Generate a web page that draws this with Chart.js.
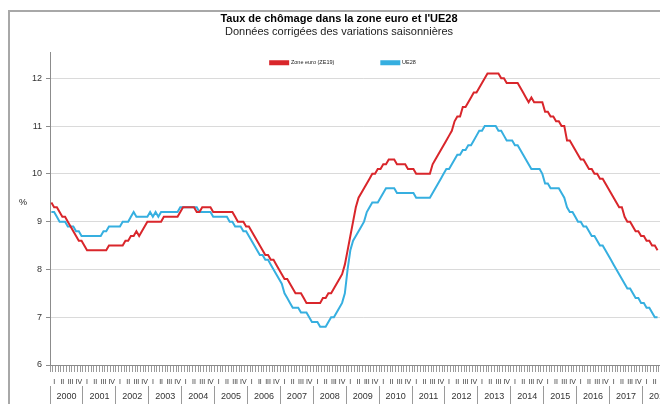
<!DOCTYPE html>
<html lang="fr">
<head>
<meta charset="utf-8">
<title>Taux de chômage dans la zone euro et l'UE28</title>
<script src="https://cdn.jsdelivr.net/npm/chart.js@4.4.1/dist/chart.umd.min.js"></script>
<style>
  html, body { margin: 0; padding: 0; background: #fff; }
  body { width: 660px; height: 404px; overflow: hidden; position: relative; }
  #frame { position: absolute; left: 8px; top: 10px; width: 720px; height: 440px;
           border-left: 2px solid #a8a8a8; border-top: 2px solid #a8a8a8; }
  #wrap { position: absolute; left: 0; top: 0; width: 680px; height: 412px; }
</style>
</head>
<body>
<div id="frame"></div>
<div id="wrap"><canvas id="chart"></canvas></div>
<script>
// Années et trimestres de l'axe horizontal
const years = [2000, 2001, 2002, 2003, 2004, 2005, 2006, 2007, 2008, 2009,
               2010, 2011, 2012, 2013, 2014, 2015, 2016, 2017, 2018];
const quarterLabels = ['I', 'II', 'III', 'IV'];
const months = years.flatMap(y =>
  Array.from({ length: 12 }, (_, i) => y + '-' + String(i + 1).padStart(2, '0')));

// Taux de chômage mensuel (%), données CVS, janvier 2000 à juin 2018
const zoneEuro = [
  9.4, 9.3, 9.3, 9.2, 9.1, 9.1, 9.0, 8.9, 8.8, 8.7, 8.6, 8.6,          // 2000
  8.5, 8.4, 8.4, 8.4, 8.4, 8.4, 8.4, 8.4, 8.4, 8.5, 8.5, 8.5,          // 2001
  8.5, 8.5, 8.5, 8.6, 8.6, 8.7, 8.7, 8.8, 8.7, 8.8, 8.9, 9.0,          // 2002
  9.0, 9.0, 9.0, 9.0, 9.0, 9.1, 9.1, 9.1, 9.1, 9.1, 9.1, 9.2,          // 2003
  9.3, 9.3, 9.3, 9.3, 9.3, 9.2, 9.2, 9.3, 9.3, 9.3, 9.3, 9.2,          // 2004
  9.2, 9.2, 9.2, 9.2, 9.2, 9.2, 9.2, 9.1, 9.0, 9.0, 9.0, 8.9,          // 2005
  8.9, 8.8, 8.7, 8.6, 8.5, 8.4, 8.3, 8.3, 8.2, 8.2, 8.1, 8.0,          // 2006
  7.9, 7.8, 7.8, 7.7, 7.6, 7.5, 7.5, 7.5, 7.4, 7.3, 7.3, 7.3,          // 2007
  7.3, 7.3, 7.3, 7.4, 7.4, 7.5, 7.5, 7.6, 7.7, 7.8, 7.9, 8.1,          // 2008
  8.4, 8.7, 9.0, 9.3, 9.5, 9.6, 9.7, 9.8, 9.9, 10.0, 10.0, 10.1,       // 2009
  10.1, 10.2, 10.2, 10.3, 10.3, 10.3, 10.2, 10.2, 10.2, 10.2, 10.1, 10.1, // 2010
  10.1, 10.0, 10.0, 10.0, 10.0, 10.0, 10.0, 10.2, 10.3, 10.4, 10.5, 10.6, // 2011
  10.7, 10.8, 10.9, 11.1, 11.2, 11.2, 11.4, 11.4, 11.5, 11.6, 11.7, 11.7, // 2012
  11.8, 11.9, 12.0, 12.1, 12.1, 12.1, 12.1, 12.1, 12.0, 12.0, 11.9, 11.9, // 2013
  11.9, 11.9, 11.9, 11.8, 11.7, 11.6, 11.5, 11.6, 11.5, 11.5, 11.5, 11.5, // 2014
  11.3, 11.3, 11.2, 11.2, 11.1, 11.1, 11.0, 11.0, 10.7, 10.7, 10.6, 10.5, // 2015
  10.4, 10.3, 10.3, 10.2, 10.1, 10.1, 10.0, 10.0, 9.9, 9.9, 9.8, 9.7,  // 2016
  9.6, 9.5, 9.4, 9.3, 9.3, 9.1, 9.0, 9.0, 8.9, 8.8, 8.8, 8.7,          // 2017
  8.7, 8.6, 8.6, 8.5, 8.5, 8.4                                         // 2018
];
const ue28 = [
  9.2, 9.2, 9.1, 9.0, 9.0, 9.0, 8.9, 8.9, 8.9, 8.8, 8.8, 8.7,          // 2000
  8.7, 8.7, 8.7, 8.7, 8.7, 8.7, 8.7, 8.8, 8.8, 8.9, 8.9, 8.9,          // 2001
  8.9, 8.9, 9.0, 9.0, 9.0, 9.1, 9.2, 9.1, 9.1, 9.1, 9.1, 9.1,          // 2002
  9.2, 9.1, 9.2, 9.1, 9.2, 9.2, 9.2, 9.2, 9.2, 9.2, 9.2, 9.3,          // 2003
  9.3, 9.3, 9.3, 9.3, 9.3, 9.3, 9.2, 9.2, 9.2, 9.2, 9.2, 9.1,          // 2004
  9.1, 9.1, 9.1, 9.1, 9.1, 9.0, 9.0, 8.9, 8.9, 8.9, 8.8, 8.8,          // 2005
  8.7, 8.6, 8.5, 8.4, 8.3, 8.3, 8.2, 8.2, 8.1, 8.0, 7.9, 7.8,          // 2006
  7.7, 7.5, 7.4, 7.3, 7.2, 7.2, 7.2, 7.1, 7.1, 7.1, 7.0, 6.9,          // 2007
  6.9, 6.9, 6.8, 6.8, 6.8, 6.9, 7.0, 7.0, 7.1, 7.2, 7.3, 7.5,          // 2008
  8.0, 8.4, 8.6, 8.7, 8.8, 8.9, 9.0, 9.2, 9.3, 9.4, 9.4, 9.4,          // 2009
  9.5, 9.6, 9.7, 9.7, 9.7, 9.7, 9.6, 9.6, 9.6, 9.6, 9.6, 9.6,          // 2010
  9.6, 9.5, 9.5, 9.5, 9.5, 9.5, 9.5, 9.6, 9.7, 9.8, 9.9, 10.0,         // 2011
  10.1, 10.1, 10.2, 10.3, 10.4, 10.4, 10.5, 10.5, 10.6, 10.6, 10.7, 10.8, // 2012
  10.9, 10.9, 11.0, 11.0, 11.0, 11.0, 11.0, 10.9, 10.9, 10.8, 10.7, 10.7, // 2013
  10.7, 10.6, 10.6, 10.5, 10.4, 10.3, 10.2, 10.1, 10.1, 10.1, 10.1, 10.0, // 2014
  9.8, 9.8, 9.7, 9.7, 9.7, 9.7, 9.6, 9.5, 9.3, 9.2, 9.2, 9.1,          // 2015
  9.0, 9.0, 8.9, 8.9, 8.8, 8.7, 8.7, 8.6, 8.5, 8.5, 8.4, 8.3,          // 2016
  8.2, 8.1, 8.0, 7.9, 7.8, 7.7, 7.6, 7.6, 7.5, 7.4, 7.4, 7.3,          // 2017
  7.3, 7.2, 7.2, 7.1, 7.0, 7.0                                         // 2018
];

const FONT = '"Liberation Sans", Arial, sans-serif';

// Libellé d'unité "%" à gauche de l'axe vertical
const unitLabel = {
  id: 'unitLabel',
  afterDraw(chart) {
    const { ctx, chartArea, scales } = chart;
    ctx.save();
    ctx.font = '9px ' + FONT;
    ctx.fillStyle = '#222';
    ctx.textAlign = 'center';
    ctx.textBaseline = 'middle';
    ctx.fillText('%', chartArea.left - 27, scales.y.getPixelForValue(9.4));
    ctx.restore();
  }
};

// La légende est posée en haut de la zone de tracé, au-dessus des courbes
const legendInPlot = {
  id: 'legendInPlot',
  afterLayout(chart) {
    const lg = chart.legend;
    if (!lg) return;
    lg.top = 13;
    lg.bottom = 75;
    lg.height = lg.bottom - lg.top;
    lg.left += 4;
    lg.right += 4;
  }
};

new Chart(document.getElementById('chart'), {
  type: 'line',
  data: {
    labels: months,
    datasets: [
      { label: 'Zone euro (ZE19)', data: zoneEuro, borderColor: '#d9262b', backgroundColor: '#d9262b',
        borderWidth: 2, pointRadius: 0, tension: 0 },
      { label: 'UE28', data: ue28, borderColor: '#36afe0', backgroundColor: '#36afe0',
        borderWidth: 2, pointRadius: 0, tension: 0 }
    ]
  },
  options: {
    responsive: true,
    maintainAspectRatio: false,
    animation: false,
    events: [],
    layout: { padding: { top: 12, left: 0, right: 2, bottom: 6 } },
    plugins: {
      legend: {
        position: 'top', maxHeight: 1,
        labels: { boxWidth: 18, boxHeight: 3, padding: 47, color: '#222', font: { size: 5.5, family: FONT } }
      },
      title: {
        display: true, text: "Taux de chômage dans la zone euro et l'UE28",
        color: '#000', font: { size: 11, weight: 'bold', family: FONT }, padding: { top: 0, bottom: 0 }
      },
      subtitle: {
        display: true, text: 'Données corrigées des variations saisonnières',
        color: '#222', font: { size: 11, family: FONT }, padding: { top: 0, bottom: 12.6 }
      },
      tooltip: { enabled: false }
    },
    scales: {
      y: {
        min: 6, max: 12.55,
        afterFit(s) { s.width = 50; },
        afterBuildTicks(s) { s.ticks = s.ticks.filter(t => Number.isInteger(t.value)); },
        ticks: { stepSize: 1, includeBounds: false, padding: 4, color: '#333', font: { size: 9, family: FONT } },
        grid: { color: '#dadada', tickLength: 4, tickColor: '#8c8c8c' },
        border: { color: '#8c8c8c' }
      },
      x: {
        offset: true,
        afterFit(s) { s.height = 21; },
        grid: { drawOnChartArea: false, offset: true, tickLength: 7, color: '#9a9a9a', tickColor: '#9a9a9a' },
        border: { color: '#8c8c8c' },
        ticks: {
          autoSkip: false, maxRotation: 0, minRotation: 0, padding: 6, color: '#333',
          font: { size: 7, family: FONT },
          callback: (v, i) => i % 3 === 1 ? quarterLabels[Math.floor((i % 12) / 3)] : ''
        }
      },
      xy: {
        type: 'category', position: 'bottom', weight: 1, offset: true,
        afterFit(s) { s.height = 20; },
        grid: {
          drawOnChartArea: false, offset: true, tickLength: 22,
          tickColor: c => (c.index % 12 === 0 ? '#9a9a9a' : 'rgba(0,0,0,0)')
        },
        border: { display: false },
        ticks: {
          autoSkip: false, maxRotation: 0, minRotation: 0, padding: -16.5, labelOffset: 1.4, color: '#333',
          font: { size: 9, family: FONT },
          callback: (v, i) => i % 12 === 5 ? String(years[Math.floor(i / 12)]) : ''
        }
      }
    }
  },
  plugins: [unitLabel, legendInPlot]
});
</script>
</body>
</html>
